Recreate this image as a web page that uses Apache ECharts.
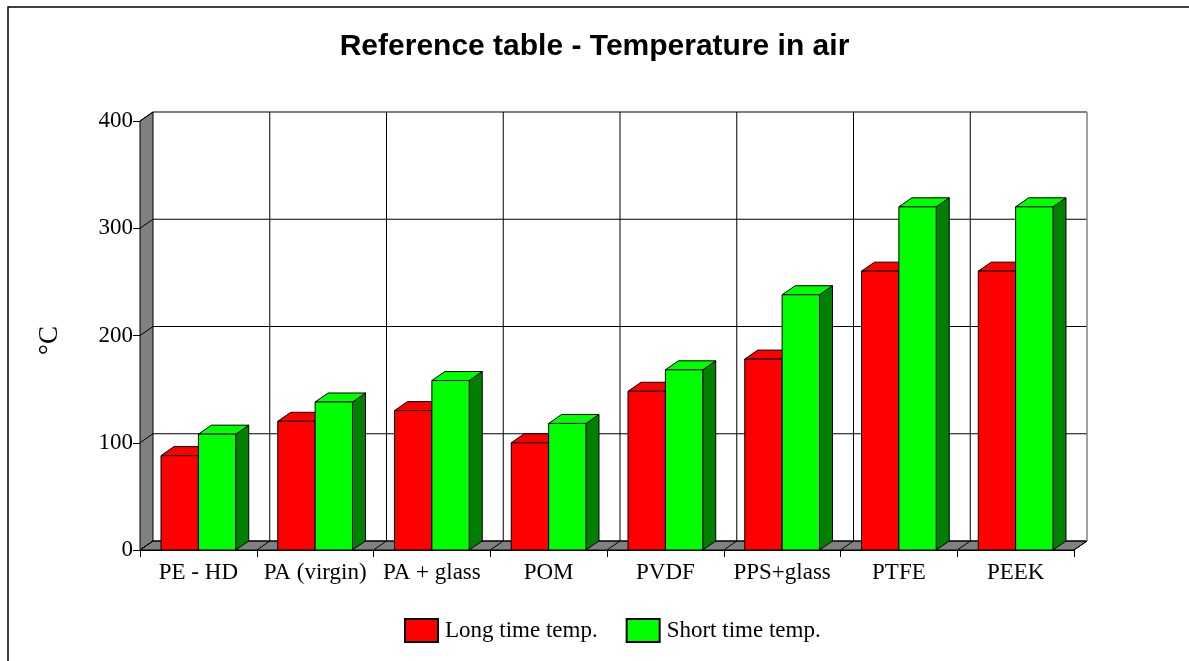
<!DOCTYPE html>
<html lang="en">
<head>
    <meta charset="UTF-8">
    <title>Reference table - Temperature in air</title>
    <script src="https://cdn.jsdelivr.net/npm/echarts@6/dist/echarts.min.js"></script>
    <style>
        html, body { margin: 0; padding: 0; background: #fff; }
        #chart1 { width: 1189px; height: 661px; }
    </style>
</head>
<body>
<div id="chart1"></div>
<script type="text/javascript">
    // data
    var materials = ['PE - HD', 'PA (virgin)', 'PA + glass', 'POM', 'PVDF', 'PPS+glass', 'PTFE', 'PEEK'];
    var longTemp = [88, 120, 130, 100, 148, 178, 260, 260];
    var shortTemp = [108, 138, 158, 118, 168, 238, 320, 320];
    var yTicks = [0, 100, 200, 300, 400];

    // depth of the fake 3d box
    var DX = 13, DY = -9;

    var myChart1 = echarts.init(document.getElementById('chart1'));

    function frameItem(params, api) {
        var bw = api.size([1, 0])[0];
        var x0 = api.coord([0, 0])[0] - bw / 2;
        var x1 = x0 + bw * materials.length;
        var yBot = api.coord([0, yTicks[0]])[1];
        var yTop = api.coord([0, yTicks[yTicks.length - 1]])[1];
        var kids = [];
        // back wall
        kids.push({type: 'rect', shape: {x: x0 + DX, y: yTop + DY, width: x1 - x0, height: yBot - yTop},
            style: {fill: '#fff', stroke: null}});
        // left wall
        kids.push({type: 'polygon', shape: {points: [[x0, yTop], [x0 + DX, yTop + DY], [x0 + DX, yBot + DY], [x0, yBot]]},
            style: {fill: '#808080', stroke: '#000', lineWidth: 1}});
        // floor
        kids.push({type: 'polygon', shape: {points: [[x0, yBot], [x1, yBot], [x1 + DX, yBot + DY], [x0 + DX, yBot + DY]]},
            style: {fill: '#808080', stroke: '#000', lineWidth: 1}});
        // horizontal grid lines
        yTicks.forEach(function (v) {
            var y = api.coord([0, v])[1];
            kids.push({type: 'polyline', shape: {points: [[x0, y], [x0 + DX, y + DY], [x1 + DX, y + DY]]},
                style: {stroke: '#000', lineWidth: 1, fill: null}});
        });
        // vertical grid lines + floor lines
        for (var i = 1; i <= materials.length; i++) {
            var x = x0 + bw * i;
            var last = i === materials.length;
            kids.push({type: 'line', shape: {x1: x + DX, y1: yTop + DY, x2: x + DX, y2: yBot + DY},
                style: {stroke: last ? '#808080' : '#000', lineWidth: last ? 1.5 : 1}});
            kids.push({type: 'line', shape: {x1: x, y1: yBot, x2: x + DX, y2: yBot + DY},
                style: {stroke: '#000', lineWidth: 1}});
        }
        return {type: 'group', children: kids};
    }

    function barRender(slot, front, side) {
        return function (params, api) {
            var cx = api.coord([api.value(0), 0])[0];
            var y0 = api.coord([0, 0])[1];
            var yv = api.coord([0, api.value(1)])[1];
            var w = api.size([1, 0])[0] * 0.32;
            var x = cx - w + slot * w;
            var st = {stroke: '#000', lineWidth: 1};
            return {
                type: 'group',
                children: [
                    {type: 'polygon', shape: {points: [[x + w, yv], [x + w + DX, yv + DY], [x + w + DX, y0 + DY], [x + w, y0]]},
                        style: Object.assign({fill: side}, st)},
                    {type: 'polygon', shape: {points: [[x, yv], [x + w, yv], [x + w + DX, yv + DY], [x + DX, yv + DY]]},
                        style: Object.assign({fill: front}, st)},
                    {type: 'rect', shape: {x: x, y: yv, width: w, height: y0 - yv},
                        style: Object.assign({fill: front}, st)}
                ]
            };
        };
    }

    myChart1.setOption({
        animation: false,
        title: {
            text: 'Reference table - Temperature in air',
            left: 'center',
            top: 27,
            textStyle: {fontFamily: 'Liberation Sans', fontWeight: 'bold', fontSize: 30, color: '#000'}
        },
        legend: {
            bottom: 13,
            left: 399,
            itemWidth: 33,
            itemHeight: 23,
            itemGap: 28,
            icon: 'rect',
            data: ['Long time temp.', 'Short time temp.'],
            textStyle: {fontFamily: 'Liberation Serif', fontSize: 23, color: '#000', padding: [0, 0, 0, 2]}
        },
        grid: {left: 140, right: 115, top: 121, bottom: 111},
        xAxis: {
            type: 'category',
            data: materials,
            axisLine: {show: true, lineStyle: {color: '#000'}},
            axisTick: {show: true, length: 7, lineStyle: {color: '#000'}},
            axisLabel: {fontFamily: 'Liberation Serif', fontSize: 23, color: '#000', margin: 11, interval: 0},
            splitLine: {show: false}
        },
        yAxis: {
            type: 'value',
            min: 0,
            max: 400,
            interval: 100,
            name: '°C',
            nameLocation: 'middle',
            nameRotate: 90,
            nameGap: 77,
            nameTextStyle: {fontFamily: 'Liberation Serif', fontSize: 27, color: '#000', padding: [0, 10, 0, 0]},
            axisLine: {show: false},
            axisTick: {show: true, length: 7, lineStyle: {color: '#000'}},
            axisLabel: {fontFamily: 'Liberation Serif', fontSize: 23, color: '#000', margin: 7},
            splitLine: {show: false}
        },
        graphic: [{
            type: 'rect', shape: {x: 8, y: 7, width: 1400, height: 900},
            style: {fill: null, stroke: '#000', lineWidth: 1.5}, silent: true
        }],
        series: [
            {
                type: 'custom', name: 'frame', z: 1, silent: true,
                renderItem: frameItem,
                data: [[0, 0]]
            },
            {
                type: 'custom', name: 'Long time temp.', z: 2,
                itemStyle: {color: '#ff0000', borderColor: '#000', borderWidth: 1},
                renderItem: barRender(0, '#ff0000', '#800000'),
                data: longTemp.map(function (v, i) { return [i, v]; })
            },
            {
                type: 'custom', name: 'Short time temp.', z: 3,
                itemStyle: {color: '#00ff00', borderColor: '#000', borderWidth: 1},
                renderItem: barRender(1, '#00ff00', '#008000'),
                data: shortTemp.map(function (v, i) { return [i, v]; })
            }
        ]
    });
</script>
</body>
</html>
